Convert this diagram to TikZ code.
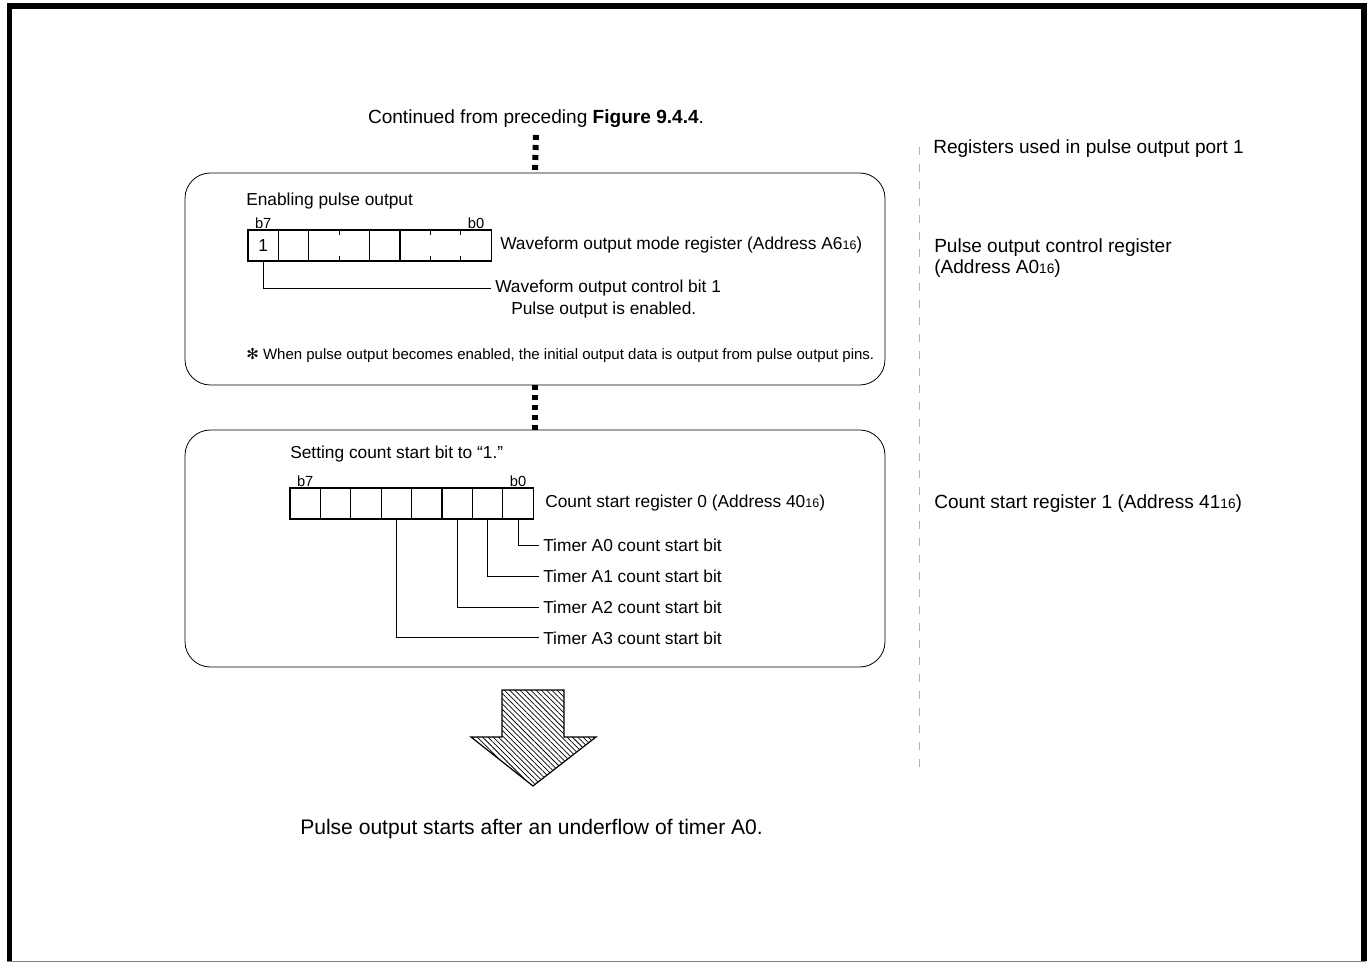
\documentclass[tikz,border=0pt]{standalone}
\usepackage{graphicx}
\usepackage{fontspec}
\setmainfont{Liberation Sans}
\newfontfamily\symfont{DejaVu Sans}
\usetikzlibrary{positioning, calc, patterns.meta}
\newcommand{\hexsub}[1]{\scalebox{0.72}{#1}}

\begin{document}
\begin{tikzpicture}[
    x=0.75pt, y=-0.75pt,
    font=\fontsize{13}{15.6}\selectfont,
    lbl/.style={inner xsep=3pt, inner ysep=0pt, anchor=base west},
    bigtxt/.style={font=\fontsize{14.3}{17}\selectfont},
    note/.style={font=\fontsize{11.25}{13.5}\selectfont},
    bitnum/.style={font=\fontsize{11}{12}\selectfont, inner sep=1pt},
    stepframe/.style={draw, rounded corners=19pt, minimum width=525pt, line width=0.6pt},
    bitcell/.style={minimum width=22.8pt, minimum height=23.25pt, inner sep=0pt, outer sep=0pt},
    regline/.style={line width=0.9pt},
    leader/.style={line width=0.5pt},
    dotlink/.style={line width=4.5pt, dash pattern=on 3.75pt off 3.75pt},
    sepline/.style={gray!60, line width=0.75pt, dash pattern=on 6pt off 6.75pt},
    bigarrow/.style={draw, line width=0.9pt, pattern={Lines[angle=-45, distance=2.8pt, line width=0.55pt]}},
]
\useasboundingbox (0,0) rectangle (1372,962);
% page frame
\draw[line width=4pt] (9.5,961) |- (1364,6) -- (1364,961);
\draw[gray, line width=0.75pt] (7,961) -- (1366,961);

% flow boxes
\node[bigtxt, anchor=base, inner sep=0pt] (cont) at (536,124) {Continued from preceding \textbf{Figure 9.4.4}.};
\node[stepframe, minimum height=159pt] (enab) at (535,279) {};
\node[stepframe, minimum height=177.75pt] (cnt) at (535,548.5) {};
\draw[dotlink] ([yshift=-5pt]cont.south) -- (enab.north);
\draw[dotlink] (enab.south) -- (cnt.north);

% Waveform output mode register
\node[lbl] (enhd) at (242,206) {Enabling pulse output};
\foreach \b [count=\i from 0] in {7,...,0}
    \node[bitcell] (wb\b) at ({248+30.4*\i+15.2},245.5) {};
\draw[regline] (wb7.north west) rectangle (wb0.south east);
\foreach \b in {7,6,4,3} \draw[regline] (wb\b.north east) -- (wb\b.south east);
\foreach \b in {5,2,1} \draw[regline] (wb\b.north east) -- ++(0,5) (wb\b.south east) -- ++(0,-5);
\node (wone) at (wb7) {1};
\node[bitnum, above=0pt of wb7] (wb7n) {b7};
\node[bitnum, above=0pt of wb0] (wb0n) {b0};
\node[lbl] (wmode) at (496,250) {Waveform output mode register (Address A6\hexsub{16})};
\node[lbl] (wctl) at (491,293) {Waveform output control bit 1};
\node[lbl] (wena) at (507,315) {Pulse output is enabled.};
\draw[leader] (wb7.south) |- (wctl.west);
\node[lbl, note] (wnote) at (242,360) {{\symfont ✻} When pulse output becomes enabled, the initial output data is output from pulse output pins.};

% Count start register 0
\node[lbl] (cshd) at (286,459) {Setting count start bit to “1.”};
\foreach \b [count=\i from 0] in {7,...,0}
    \node[bitcell, draw, regline] (cb\b) at ({290+30.4*\i+15.2},503.5) {};
\node[bitnum, above=0pt of cb7] (cb7n) {b7};
\node[bitnum, above=0pt of cb0] (cb0n) {b0};
\node[lbl] (cs0) at (541,508) {Count start register 0 (Address 40\hexsub{16})};
\foreach \b/\t/\y in {0/0/552, 1/1/583, 2/2/614, 4/3/644} {
    \node[lbl] (ta\t) at (539,\y) {Timer A\t{} count start bit};
    \draw[leader] (cb\b.south) |- (ta\t.west);
}

% result
\draw[bigarrow] (502,690) -- (564,690) -- (564,737) -- (596,737) -- (533,786) -- (471,737) -- (502,737) -- cycle;
\node[lbl, font=\fontsize{15.8}{18}\selectfont] (result) at (296,834) {Pulse output starts after an underflow of timer A0.};

% registers of port 1
\coordinate (septop) at (919,147);
\coordinate (sepbot) at (919,770);
\draw[sepline] (septop) -- (sepbot);
\node[lbl, bigtxt] (regs) at (929,154) {Registers used in pulse output port 1};
\node[lbl, bigtxt] (pocr) at (930,253) {Pulse output control register};
\node[lbl, bigtxt] (pocra) at (930,274) {(Address A0\hexsub{16})};
\node[lbl, bigtxt] (csr1) at (930,509) {Count start register 1 (Address 41\hexsub{16})};
\end{tikzpicture}
\end{document}
